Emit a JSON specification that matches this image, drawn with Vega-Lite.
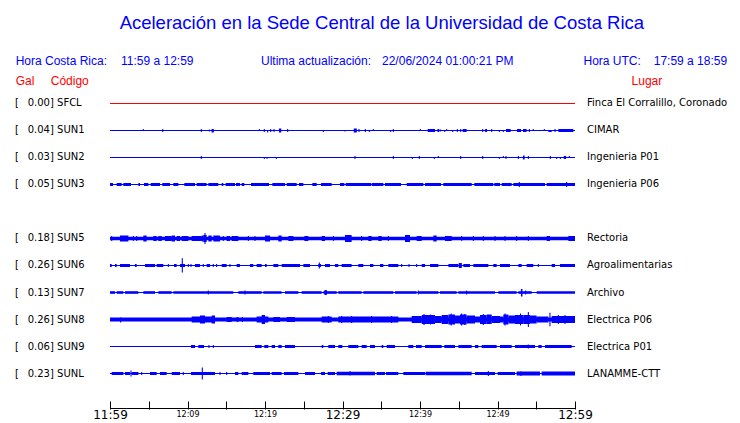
{
"$schema":"https://vega.github.io/schema/vega-lite/v6.json",
"width":465,"height":409,
"autosize":{"type":"none"},
"padding":{"left":110,"top":0,"right":165,"bottom":14},
"background":"white",
"config":{"view":{"stroke":null}},
"datasets":{
"w":[
{"s":"SFCL","t":0,"t2":60,"lo":-0.5,"hi":0.5},
{"s":"SUN1","t":0,"t2":60,"lo":-0.5,"hi":0.5},
{"s":"SUN1","t":4.23,"t2":4.37,"lo":-0.5,"hi":1.5},
{"s":"SUN1","t":6.73,"t2":6.87,"lo":-1.5,"hi":1.5},
{"s":"SUN1","t":11.71,"t2":11.85,"lo":-1.5,"hi":1.5},
{"s":"SUN1","t":12.75,"t2":12.89,"lo":-1,"hi":1},
{"s":"SUN1","t":13.1,"t2":13.4,"lo":-2,"hi":1.5},
{"s":"SUN1","t":19.2,"t2":19.34,"lo":-0.5,"hi":1.5},
{"s":"SUN1","t":19.84,"t2":19.98,"lo":-1.5,"hi":1.5},
{"s":"SUN1","t":20.27,"t2":20.41,"lo":-2,"hi":0.5},
{"s":"SUN1","t":20.66,"t2":20.8,"lo":-1.5,"hi":1.5},
{"s":"SUN1","t":21.09,"t2":21.23,"lo":-1.5,"hi":1.5},
{"s":"SUN1","t":21.8,"t2":22.1,"lo":-2,"hi":2},
{"s":"SUN1","t":22.85,"t2":22.99,"lo":-1.5,"hi":1.5},
{"s":"SUN1","t":27.46,"t2":27.6,"lo":-1.5,"hi":0.5},
{"s":"SUN1","t":30.25,"t2":30.39,"lo":-1,"hi":0.5},
{"s":"SUN1","t":31.45,"t2":31.85,"lo":-2,"hi":2},
{"s":"SUN1","t":32.06,"t2":32.2,"lo":-1.5,"hi":1.5},
{"s":"SUN1","t":32.88,"t2":33.02,"lo":-1.5,"hi":1.5},
{"s":"SUN1","t":33.39,"t2":33.53,"lo":-1.5,"hi":0.5},
{"s":"SUN1","t":33.91,"t2":34.05,"lo":-0.5,"hi":1.5},
{"s":"SUN1","t":36.15,"t2":36.29,"lo":-1.5,"hi":0.5},
{"s":"SUN1","t":36.49,"t2":36.63,"lo":-1.5,"hi":1.5},
{"s":"SUN1","t":39.97,"t2":40.11,"lo":-0.5,"hi":1.5},
{"s":"SUN1","t":40.99,"t2":41.94,"lo":-1.5,"hi":1.5},
{"s":"SUN1","t":42.25,"t2":42.49,"lo":-1.5,"hi":1.5},
{"s":"SUN1","t":42.59,"t2":42.73,"lo":-1,"hi":1},
{"s":"SUN1","t":43.11,"t2":43.25,"lo":-1.5,"hi":0.5},
{"s":"SUN1","t":43.37,"t2":43.51,"lo":-0.5,"hi":1.5},
{"s":"SUN1","t":44.15,"t2":44.29,"lo":-1.5,"hi":0.5},
{"s":"SUN1","t":44.75,"t2":44.89,"lo":-1.5,"hi":1.5},
{"s":"SUN1","t":45.18,"t2":45.32,"lo":-1.5,"hi":1.5},
{"s":"SUN1","t":45.51,"t2":46.02,"lo":-1.5,"hi":1.5},
{"s":"SUN1","t":48.02,"t2":48.16,"lo":-1.5,"hi":1.5},
{"s":"SUN1","t":48.4,"t2":48.65,"lo":-1.5,"hi":1.5},
{"s":"SUN1","t":49.18,"t2":49.32,"lo":-1.5,"hi":1.5},
{"s":"SUN1","t":50.17,"t2":50.31,"lo":-1.5,"hi":0.5},
{"s":"SUN1","t":50.68,"t2":50.82,"lo":-1.5,"hi":0.5},
{"s":"SUN1","t":51.1,"t2":51.7,"lo":-1.5,"hi":1.5},
{"s":"SUN1","t":52.52,"t2":53.03,"lo":-1.5,"hi":1.5},
{"s":"SUN1","t":53.29,"t2":53.76,"lo":-1.5,"hi":1.5},
{"s":"SUN1","t":54.04,"t2":54.18,"lo":-1.5,"hi":1.5},
{"s":"SUN1","t":54.55,"t2":54.69,"lo":-0.5,"hi":1.5},
{"s":"SUN1","t":55.97,"t2":56.11,"lo":-0.5,"hi":1.5},
{"s":"SUN1","t":56.56,"t2":56.99,"lo":-1.5,"hi":0.5},
{"s":"SUN1","t":57.35,"t2":57.49,"lo":-1.5,"hi":1.5},
{"s":"SUN1","t":57.85,"t2":59.78,"lo":-1.5,"hi":1.5},
{"s":"SUN2","t":0,"t2":60,"lo":-0.5,"hi":0.5},
{"s":"SUN2","t":11.71,"t2":11.85,"lo":-1.5,"hi":1.5},
{"s":"SUN2","t":19.84,"t2":19.98,"lo":-1.5,"hi":0.5},
{"s":"SUN2","t":20.19,"t2":20.33,"lo":-1.5,"hi":0.5},
{"s":"SUN2","t":21.39,"t2":21.53,"lo":-1.5,"hi":0.5},
{"s":"SUN2","t":31.54,"t2":31.68,"lo":-1.5,"hi":1.5},
{"s":"SUN2","t":36.49,"t2":36.63,"lo":-1.5,"hi":1.5},
{"s":"SUN2","t":38.94,"t2":39.08,"lo":-1.5,"hi":0.5},
{"s":"SUN2","t":39.84,"t2":39.98,"lo":-1.5,"hi":1.5},
{"s":"SUN2","t":41.78,"t2":41.92,"lo":-1.5,"hi":0.5},
{"s":"SUN2","t":42.3,"t2":42.44,"lo":-0.5,"hi":1.5},
{"s":"SUN2","t":45.18,"t2":45.32,"lo":-1.5,"hi":1.5},
{"s":"SUN2","t":48.02,"t2":48.16,"lo":-1.5,"hi":1.5},
{"s":"SUN2","t":50.17,"t2":50.31,"lo":-1.5,"hi":0.5},
{"s":"SUN2","t":50.68,"t2":50.82,"lo":-0.5,"hi":1.5},
{"s":"SUN2","t":51.03,"t2":51.17,"lo":-1.5,"hi":1.5},
{"s":"SUN2","t":52.62,"t2":52.76,"lo":-1.5,"hi":1.5},
{"s":"SUN2","t":53.28,"t2":53.5,"lo":-2,"hi":2},
{"s":"SUN2","t":53.91,"t2":54.05,"lo":-1.5,"hi":1.5},
{"s":"SUN2","t":56.75,"t2":56.89,"lo":-1.5,"hi":1.5},
{"s":"SUN2","t":57.56,"t2":57.7,"lo":-1.5,"hi":0.5},
{"s":"SUN2","t":58.04,"t2":58.18,"lo":-1.5,"hi":0.5},
{"s":"SUN2","t":58.55,"t2":58.85,"lo":-1.5,"hi":1.5},
{"s":"SUN2","t":59.2,"t2":59.34,"lo":-0.5,"hi":1.5},
{"s":"SUN3","t":0,"t2":60,"lo":-0.5,"hi":0.5},
{"s":"SUN3","t":0,"t2":0.39,"lo":-1.5,"hi":1.5},
{"s":"SUN3","t":0.86,"t2":1.51,"lo":-1.5,"hi":1.5},
{"s":"SUN3","t":1.72,"t2":2.71,"lo":-1.5,"hi":1.5},
{"s":"SUN3","t":3.66,"t2":3.87,"lo":-1.5,"hi":1.5},
{"s":"SUN3","t":4.39,"t2":4.95,"lo":-1.5,"hi":1.5},
{"s":"SUN3","t":5.25,"t2":6.45,"lo":-1.5,"hi":1.5},
{"s":"SUN3","t":6.75,"t2":7.74,"lo":-1.5,"hi":1.5},
{"s":"SUN3","t":8.17,"t2":8.82,"lo":-1.5,"hi":1.5},
{"s":"SUN3","t":9.59,"t2":10.97,"lo":-1.5,"hi":1.5},
{"s":"SUN3","t":11.18,"t2":12.47,"lo":-1.5,"hi":1.5},
{"s":"SUN3","t":12.69,"t2":13.98,"lo":-1.5,"hi":1.5},
{"s":"SUN3","t":14.41,"t2":14.62,"lo":-1.5,"hi":1.5},
{"s":"SUN3","t":14.92,"t2":16.13,"lo":-1.5,"hi":1.5},
{"s":"SUN3","t":16.26,"t2":16.77,"lo":-1.5,"hi":1.5},
{"s":"SUN3","t":16.99,"t2":17.33,"lo":-1.5,"hi":1.5},
{"s":"SUN3","t":18.19,"t2":20.52,"lo":-1.5,"hi":1.5},
{"s":"SUN3","t":20.95,"t2":22.58,"lo":-1.5,"hi":1.5},
{"s":"SUN3","t":22.8,"t2":24.09,"lo":-1.5,"hi":1.5},
{"s":"SUN3","t":24.39,"t2":24.95,"lo":-1.5,"hi":1.5},
{"s":"SUN3","t":26.11,"t2":26.67,"lo":-1.5,"hi":1.5},
{"s":"SUN3","t":27.23,"t2":28.6,"lo":-1.5,"hi":1.5},
{"s":"SUN3","t":29.68,"t2":30.24,"lo":-1.5,"hi":1.5},
{"s":"SUN3","t":30.41,"t2":33.68,"lo":-1.5,"hi":1.5},
{"s":"SUN3","t":33.76,"t2":35.27,"lo":-1.5,"hi":1.5},
{"s":"SUN3","t":35.48,"t2":37.55,"lo":-1.5,"hi":1.5},
{"s":"SUN3","t":38.28,"t2":40.43,"lo":-1.5,"hi":1.5},
{"s":"SUN3","t":40.65,"t2":42.71,"lo":-1.5,"hi":1.5},
{"s":"SUN3","t":43.01,"t2":46.67,"lo":-1.5,"hi":1.5},
{"s":"SUN3","t":47.01,"t2":49.46,"lo":-1.5,"hi":1.5},
{"s":"SUN3","t":49.59,"t2":50.32,"lo":-1.5,"hi":1.5},
{"s":"SUN3","t":50.54,"t2":51.83,"lo":-1.5,"hi":1.5},
{"s":"SUN3","t":52.04,"t2":56.13,"lo":-1.5,"hi":1.5},
{"s":"SUN3","t":56.34,"t2":60,"lo":-1.5,"hi":1.5},
{"s":"SUN3","t":52.75,"t2":52.89,"lo":-2.5,"hi":2.5},
{"s":"SUN3","t":58.85,"t2":58.99,"lo":-2.5,"hi":2.5},
{"s":"SUN5","t":0,"t2":60,"lo":-1.8,"hi":1.8},
{"s":"SUN5","t":0.15,"t2":0.29,"lo":-2.5,"hi":2.5},
{"s":"SUN5","t":1.29,"t2":2.37,"lo":-3,"hi":3},
{"s":"SUN5","t":2.94,"t2":3.08,"lo":-2.5,"hi":2.5},
{"s":"SUN5","t":3.37,"t2":3.51,"lo":-2.5,"hi":2.5},
{"s":"SUN5","t":4.3,"t2":4.73,"lo":-3,"hi":3},
{"s":"SUN5","t":5.59,"t2":6.02,"lo":-2.5,"hi":2.5},
{"s":"SUN5","t":6.24,"t2":6.67,"lo":-2.5,"hi":2.5},
{"s":"SUN5","t":7.1,"t2":7.96,"lo":-2.5,"hi":2.5},
{"s":"SUN5","t":7.96,"t2":8.39,"lo":-3,"hi":3},
{"s":"SUN5","t":8.6,"t2":9.03,"lo":-2.5,"hi":2.5},
{"s":"SUN5","t":9.25,"t2":10.11,"lo":-2.5,"hi":2.5},
{"s":"SUN5","t":10.54,"t2":11.83,"lo":-2.5,"hi":2.5},
{"s":"SUN5","t":11.83,"t2":12.04,"lo":-3,"hi":3},
{"s":"SUN5","t":12.04,"t2":12.47,"lo":-3.5,"hi":3.5},
{"s":"SUN5","t":12.19,"t2":12.33,"lo":-5.5,"hi":5.5},
{"s":"SUN5","t":12.69,"t2":13.12,"lo":-3,"hi":3},
{"s":"SUN5","t":13.33,"t2":14.19,"lo":-3,"hi":3},
{"s":"SUN5","t":14.55,"t2":14.69,"lo":-2.5,"hi":2.5},
{"s":"SUN5","t":15.05,"t2":15.48,"lo":-2.5,"hi":2.5},
{"s":"SUN5","t":15.7,"t2":16.56,"lo":-2.5,"hi":2.5},
{"s":"SUN5","t":17.78,"t2":17.92,"lo":-2.5,"hi":2.5},
{"s":"SUN5","t":18.64,"t2":18.78,"lo":-2.5,"hi":2.5},
{"s":"SUN5","t":20,"t2":20.65,"lo":-3,"hi":3},
{"s":"SUN5","t":21.72,"t2":22.15,"lo":-3,"hi":3},
{"s":"SUN5","t":23.01,"t2":23.66,"lo":-2.5,"hi":2.5},
{"s":"SUN5","t":25.08,"t2":25.59,"lo":-2.5,"hi":2.5},
{"s":"SUN5","t":27.31,"t2":27.74,"lo":-2.5,"hi":2.5},
{"s":"SUN5","t":28.75,"t2":28.89,"lo":-2.5,"hi":2.5},
{"s":"SUN5","t":30.32,"t2":31.18,"lo":-3.5,"hi":3.5},
{"s":"SUN5","t":32.4,"t2":32.54,"lo":-2.5,"hi":2.5},
{"s":"SUN5","t":33.33,"t2":33.76,"lo":-2.5,"hi":2.5},
{"s":"SUN5","t":34.62,"t2":35.05,"lo":-2.5,"hi":2.5},
{"s":"SUN5","t":35.84,"t2":35.98,"lo":-2.5,"hi":2.5},
{"s":"SUN5","t":38.06,"t2":38.71,"lo":-3.5,"hi":3.5},
{"s":"SUN5","t":39.57,"t2":40.22,"lo":-2.5,"hi":2.5},
{"s":"SUN5","t":41.72,"t2":42.15,"lo":-3,"hi":3},
{"s":"SUN5","t":43.23,"t2":44.09,"lo":-2.5,"hi":2.5},
{"s":"SUN5","t":45.31,"t2":45.45,"lo":-2.5,"hi":2.5},
{"s":"SUN5","t":46.81,"t2":46.95,"lo":-2.5,"hi":2.5},
{"s":"SUN5","t":48.1,"t2":48.24,"lo":-2.5,"hi":2.5},
{"s":"SUN5","t":49.61,"t2":49.75,"lo":-2.5,"hi":2.5},
{"s":"SUN5","t":50.9,"t2":51.04,"lo":-2.5,"hi":2.5},
{"s":"SUN5","t":52.4,"t2":52.54,"lo":-2.5,"hi":2.5},
{"s":"SUN5","t":53.91,"t2":54.05,"lo":-2.5,"hi":2.5},
{"s":"SUN5","t":56.34,"t2":56.77,"lo":-2.5,"hi":2.5},
{"s":"SUN5","t":59.14,"t2":60,"lo":-2.5,"hi":2.5},
{"s":"SUN6","t":0,"t2":60,"lo":-0.5,"hi":0.5},
{"s":"SUN6","t":0,"t2":0.22,"lo":-1.5,"hi":1.5},
{"s":"SUN6","t":0.65,"t2":0.86,"lo":-1.5,"hi":1.5},
{"s":"SUN6","t":1.29,"t2":2.58,"lo":-1.5,"hi":1.5},
{"s":"SUN6","t":3.23,"t2":3.44,"lo":-1.5,"hi":1.5},
{"s":"SUN6","t":4.52,"t2":5.81,"lo":-1.5,"hi":1.5},
{"s":"SUN6","t":6.02,"t2":6.88,"lo":-1.5,"hi":1.5},
{"s":"SUN6","t":7.46,"t2":7.6,"lo":-1.5,"hi":1.5},
{"s":"SUN6","t":8.26,"t2":8.6,"lo":-1.5,"hi":1.5},
{"s":"SUN6","t":9.03,"t2":9.68,"lo":-1.5,"hi":1.5},
{"s":"SUN6","t":9.26,"t2":9.4,"lo":-7,"hi":7.3},
{"s":"SUN6","t":10.04,"t2":10.18,"lo":-1.5,"hi":1.5},
{"s":"SUN6","t":10.38,"t2":10.52,"lo":-1.5,"hi":1.5},
{"s":"SUN6","t":10.97,"t2":11.61,"lo":-1.5,"hi":1.5},
{"s":"SUN6","t":11.97,"t2":12.11,"lo":-1.5,"hi":1.5},
{"s":"SUN6","t":12.47,"t2":12.9,"lo":-1.5,"hi":1.5},
{"s":"SUN6","t":13.26,"t2":13.4,"lo":-1.5,"hi":1.5},
{"s":"SUN6","t":13.69,"t2":13.83,"lo":-1.5,"hi":1.5},
{"s":"SUN6","t":14.41,"t2":15.05,"lo":-1.5,"hi":1.5},
{"s":"SUN6","t":15.41,"t2":15.55,"lo":-1.5,"hi":1.5},
{"s":"SUN6","t":16.34,"t2":16.77,"lo":-1.5,"hi":1.5},
{"s":"SUN6","t":18.06,"t2":18.49,"lo":-1.5,"hi":1.5},
{"s":"SUN6","t":18.92,"t2":19.57,"lo":-1.5,"hi":1.5},
{"s":"SUN6","t":20,"t2":20.22,"lo":-1.5,"hi":1.5},
{"s":"SUN6","t":21.08,"t2":21.72,"lo":-1.5,"hi":1.5},
{"s":"SUN6","t":22.15,"t2":24.52,"lo":-1.5,"hi":1.5},
{"s":"SUN6","t":24.95,"t2":25.81,"lo":-1.5,"hi":1.5},
{"s":"SUN6","t":26.88,"t2":27.23,"lo":-1.5,"hi":1.5},
{"s":"SUN6","t":26.94,"t2":27.08,"lo":-3,"hi":3},
{"s":"SUN6","t":27.74,"t2":28.39,"lo":-1.5,"hi":1.5},
{"s":"SUN6","t":29.03,"t2":29.46,"lo":-1.5,"hi":1.5},
{"s":"SUN6","t":29.89,"t2":31.18,"lo":-1.5,"hi":1.5},
{"s":"SUN6","t":32.04,"t2":32.69,"lo":-1.5,"hi":1.5},
{"s":"SUN6","t":33.55,"t2":33.98,"lo":-1.5,"hi":1.5},
{"s":"SUN6","t":34.84,"t2":35.27,"lo":-1.5,"hi":1.5},
{"s":"SUN6","t":35.91,"t2":37.2,"lo":-1.5,"hi":1.5},
{"s":"SUN6","t":37.56,"t2":37.7,"lo":-1.5,"hi":1.5},
{"s":"SUN6","t":38.51,"t2":38.65,"lo":-1.5,"hi":1.5},
{"s":"SUN6","t":39.5,"t2":39.64,"lo":-1.5,"hi":1.5},
{"s":"SUN6","t":40.22,"t2":40.65,"lo":-1.5,"hi":1.5},
{"s":"SUN6","t":41.29,"t2":42.37,"lo":-1.5,"hi":1.5},
{"s":"SUN6","t":43.66,"t2":44.95,"lo":-1.5,"hi":1.5},
{"s":"SUN6","t":45.0,"t2":45.4,"lo":-2.5,"hi":2.5},
{"s":"SUN6","t":45.59,"t2":46.45,"lo":-1.5,"hi":1.5},
{"s":"SUN6","t":46.88,"t2":48.82,"lo":-1.5,"hi":1.5},
{"s":"SUN6","t":49.46,"t2":49.89,"lo":-1.5,"hi":1.5},
{"s":"SUN6","t":50.32,"t2":51.61,"lo":-1.5,"hi":1.5},
{"s":"SUN6","t":52.69,"t2":53.12,"lo":-1.5,"hi":1.5},
{"s":"SUN6","t":53.76,"t2":54.62,"lo":-1.5,"hi":1.5},
{"s":"SUN6","t":55.2,"t2":55.34,"lo":-1.5,"hi":1.5},
{"s":"SUN6","t":56.99,"t2":57.42,"lo":-1.5,"hi":1.5},
{"s":"SUN6","t":58.06,"t2":60,"lo":-1.5,"hi":1.5},
{"s":"SUN7","t":0,"t2":60,"lo":-0.5,"hi":0.5},
{"s":"SUN7","t":0,"t2":0.65,"lo":-1.3,"hi":1.3},
{"s":"SUN7","t":0.86,"t2":1.72,"lo":-1.3,"hi":1.3},
{"s":"SUN7","t":1.94,"t2":3.66,"lo":-1.3,"hi":1.3},
{"s":"SUN7","t":4.3,"t2":5.81,"lo":-1.3,"hi":1.3},
{"s":"SUN7","t":6.24,"t2":7.96,"lo":-1.3,"hi":1.3},
{"s":"SUN7","t":8.17,"t2":15.91,"lo":-1.3,"hi":1.3},
{"s":"SUN7","t":16.56,"t2":19.57,"lo":-1.3,"hi":1.3},
{"s":"SUN7","t":19.78,"t2":22.15,"lo":-1.3,"hi":1.3},
{"s":"SUN7","t":22.58,"t2":24.3,"lo":-1.3,"hi":1.3},
{"s":"SUN7","t":24.73,"t2":27.31,"lo":-1.3,"hi":1.3},
{"s":"SUN7","t":27.53,"t2":29.25,"lo":-1.3,"hi":1.3},
{"s":"SUN7","t":29.46,"t2":32.47,"lo":-1.3,"hi":1.3},
{"s":"SUN7","t":32.69,"t2":36.56,"lo":-1.3,"hi":1.3},
{"s":"SUN7","t":36.77,"t2":39.57,"lo":-1.3,"hi":1.3},
{"s":"SUN7","t":39.78,"t2":42.37,"lo":-1.3,"hi":1.3},
{"s":"SUN7","t":42.58,"t2":44.73,"lo":-1.3,"hi":1.3},
{"s":"SUN7","t":44.95,"t2":49.68,"lo":-1.3,"hi":1.3},
{"s":"SUN7","t":50.11,"t2":52.47,"lo":-1.3,"hi":1.3},
{"s":"SUN7","t":52.69,"t2":54.41,"lo":-1.3,"hi":1.3},
{"s":"SUN7","t":55.05,"t2":60,"lo":-1.3,"hi":1.3},
{"s":"SUN7","t":12.62,"t2":12.76,"lo":-2,"hi":2},
{"s":"SUN7","t":17.35,"t2":17.49,"lo":-2,"hi":2},
{"s":"SUN7","t":27.68,"t2":27.98,"lo":-2.5,"hi":2.5},
{"s":"SUN7","t":39.71,"t2":39.85,"lo":-2,"hi":2},
{"s":"SUN7","t":45.95,"t2":46.09,"lo":-2,"hi":2},
{"s":"SUN7","t":53.02,"t2":53.22,"lo":-4,"hi":3.5},
{"s":"SUN7","t":53.56,"t2":53.7,"lo":-2,"hi":2},
{"s":"SUN8","t":0,"t2":60,"lo":-2,"hi":2},
{"s":"SUN8","t":1.31,"t2":1.45,"lo":-3,"hi":2},
{"s":"SUN8","t":10.54,"t2":13.55,"lo":-3,"hi":3},
{"s":"SUN8","t":11.61,"t2":12.26,"lo":-4,"hi":4},
{"s":"SUN8","t":13.12,"t2":13.55,"lo":-4,"hi":4},
{"s":"SUN8","t":15.05,"t2":15.7,"lo":-2.5,"hi":2.5},
{"s":"SUN8","t":16.34,"t2":16.56,"lo":-2.5,"hi":2.5},
{"s":"SUN8","t":17.01,"t2":17.15,"lo":-2.5,"hi":2.5},
{"s":"SUN8","t":18.92,"t2":20.43,"lo":-3,"hi":3},
{"s":"SUN8","t":19.57,"t2":20,"lo":-4.5,"hi":4.5},
{"s":"SUN8","t":21.08,"t2":21.94,"lo":-2.5,"hi":2.5},
{"s":"SUN8","t":22.8,"t2":23.87,"lo":-2.5,"hi":2.5},
{"s":"SUN8","t":27.31,"t2":28.6,"lo":-3,"hi":3},
{"s":"SUN8","t":28.1,"t2":28.24,"lo":-3.5,"hi":3.5},
{"s":"SUN8","t":29.46,"t2":37.2,"lo":-3,"hi":3},
{"s":"SUN8","t":29.82,"t2":29.96,"lo":-3.5,"hi":3.5},
{"s":"SUN8","t":31.11,"t2":31.25,"lo":-3.5,"hi":3.5},
{"s":"SUN8","t":33.69,"t2":33.83,"lo":-3.5,"hi":3.5},
{"s":"SUN8","t":36.27,"t2":36.41,"lo":-3.5,"hi":3.5},
{"s":"SUN8","t":38.92,"t2":40.22,"lo":-3.5,"hi":3.5},
{"s":"SUN8","t":40.22,"t2":41.94,"lo":-4.5,"hi":4.5},
{"s":"SUN8","t":40.45,"t2":40.59,"lo":-5.5,"hi":5.5},
{"s":"SUN8","t":41.3,"t2":41.44,"lo":-5,"hi":5},
{"s":"SUN8","t":41.94,"t2":42.8,"lo":-3.5,"hi":3.5},
{"s":"SUN8","t":42.8,"t2":43.66,"lo":-4.5,"hi":4.5},
{"s":"SUN8","t":43.66,"t2":44.52,"lo":-5,"hi":5},
{"s":"SUN8","t":43.95,"t2":44.09,"lo":-6,"hi":6},
{"s":"SUN8","t":44.52,"t2":45.16,"lo":-4,"hi":4},
{"s":"SUN8","t":45.16,"t2":46.02,"lo":-5,"hi":5},
{"s":"SUN8","t":45.3,"t2":45.44,"lo":-6,"hi":6},
{"s":"SUN8","t":45.7,"t2":45.84,"lo":-5.5,"hi":5.5},
{"s":"SUN8","t":46.02,"t2":47.1,"lo":-4,"hi":4},
{"s":"SUN8","t":47.1,"t2":47.74,"lo":-3,"hi":3},
{"s":"SUN8","t":47.74,"t2":48.6,"lo":-4.5,"hi":4.5},
{"s":"SUN8","t":48.1,"t2":48.24,"lo":-5.5,"hi":5.5},
{"s":"SUN8","t":48.6,"t2":49.25,"lo":-4.5,"hi":5},
{"s":"SUN8","t":49.25,"t2":50.32,"lo":-3.5,"hi":3.5},
{"s":"SUN8","t":50.32,"t2":50.75,"lo":-3,"hi":3},
{"s":"SUN8","t":50.75,"t2":51.4,"lo":-5,"hi":5},
{"s":"SUN8","t":50.9,"t2":51.04,"lo":-6,"hi":6},
{"s":"SUN8","t":51.4,"t2":52.26,"lo":-4,"hi":4},
{"s":"SUN8","t":52.26,"t2":53.33,"lo":-4.5,"hi":4.5},
{"s":"SUN8","t":52.9,"t2":53.04,"lo":-6,"hi":6},
{"s":"SUN8","t":53.33,"t2":54.19,"lo":-4.5,"hi":4.5},
{"s":"SUN8","t":53.91,"t2":54.05,"lo":-7.5,"hi":7.5},
{"s":"SUN8","t":54.19,"t2":55.05,"lo":-4,"hi":4},
{"s":"SUN8","t":55.05,"t2":56.56,"lo":-3,"hi":3},
{"s":"SUN8","t":56.7,"t2":56.84,"lo":-6.7,"hi":6.7},
{"s":"SUN8","t":56.99,"t2":60,"lo":-3.5,"hi":3.5},
{"s":"SUN8","t":57.78,"t2":57.92,"lo":-4.5,"hi":4.5},
{"s":"SUN8","t":58.64,"t2":58.78,"lo":-4.5,"hi":4.5},
{"s":"SUN9","t":0,"t2":60,"lo":-0.5,"hi":0.5},
{"s":"SUN9","t":10.45,"t2":10.97,"lo":-1.5,"hi":1.5},
{"s":"SUN9","t":11.4,"t2":12.13,"lo":-1.5,"hi":1.5},
{"s":"SUN9","t":12.7,"t2":12.84,"lo":-1.5,"hi":1.5},
{"s":"SUN9","t":13.26,"t2":13.4,"lo":-1.5,"hi":1.5},
{"s":"SUN9","t":18.71,"t2":19.57,"lo":-1.5,"hi":1.5},
{"s":"SUN9","t":19.91,"t2":20.43,"lo":-1.5,"hi":1.5},
{"s":"SUN9","t":20.86,"t2":21.29,"lo":-1.5,"hi":1.5},
{"s":"SUN9","t":21.72,"t2":22.15,"lo":-1.5,"hi":1.5},
{"s":"SUN9","t":22.58,"t2":23.87,"lo":-1.5,"hi":1.5},
{"s":"SUN9","t":27.31,"t2":27.53,"lo":-1.5,"hi":1.5},
{"s":"SUN9","t":28.17,"t2":29.03,"lo":-1.5,"hi":1.5},
{"s":"SUN9","t":29.46,"t2":29.98,"lo":-1.5,"hi":1.5},
{"s":"SUN9","t":30.75,"t2":32.04,"lo":-1.5,"hi":1.5},
{"s":"SUN9","t":32.47,"t2":33.12,"lo":-1.5,"hi":1.5},
{"s":"SUN9","t":33.55,"t2":34.19,"lo":-1.5,"hi":1.5},
{"s":"SUN9","t":35.05,"t2":35.27,"lo":-1.5,"hi":1.5},
{"s":"SUN9","t":35.7,"t2":36.77,"lo":-1.5,"hi":1.5},
{"s":"SUN9","t":38.49,"t2":39.14,"lo":-1.5,"hi":1.5},
{"s":"SUN9","t":39.48,"t2":40.22,"lo":-1.5,"hi":1.5},
{"s":"SUN9","t":40.65,"t2":42.8,"lo":-1.5,"hi":1.5},
{"s":"SUN9","t":43.14,"t2":44.52,"lo":-1.5,"hi":1.5},
{"s":"SUN9","t":44.95,"t2":46.67,"lo":-1.5,"hi":1.5},
{"s":"SUN9","t":47.1,"t2":47.53,"lo":-1.5,"hi":1.5},
{"s":"SUN9","t":47.96,"t2":49.89,"lo":-1.5,"hi":1.5},
{"s":"SUN9","t":50.32,"t2":51.83,"lo":-1.5,"hi":1.5},
{"s":"SUN9","t":52.26,"t2":54.84,"lo":-1.5,"hi":1.5},
{"s":"SUN9","t":53.91,"t2":54.05,"lo":-2,"hi":2},
{"s":"SUN9","t":55.27,"t2":55.7,"lo":-1.5,"hi":1.5},
{"s":"SUN9","t":56.13,"t2":59.57,"lo":-1.5,"hi":1.5},
{"s":"SUNL","t":0,"t2":60,"lo":-0.5,"hi":0.5},
{"s":"SUNL","t":0.22,"t2":1.72,"lo":-1.5,"hi":1.5},
{"s":"SUNL","t":1.94,"t2":2.58,"lo":-1.5,"hi":1.5},
{"s":"SUNL","t":2.64,"t2":2.78,"lo":-3,"hi":3},
{"s":"SUNL","t":2.8,"t2":3.66,"lo":-1.5,"hi":1.5},
{"s":"SUNL","t":4.02,"t2":4.16,"lo":-1.5,"hi":1.5},
{"s":"SUNL","t":5.16,"t2":6.02,"lo":-1.5,"hi":1.5},
{"s":"SUNL","t":6.45,"t2":7.31,"lo":-1.5,"hi":1.5},
{"s":"SUNL","t":7.96,"t2":9.03,"lo":-1.5,"hi":1.5},
{"s":"SUNL","t":9.39,"t2":9.53,"lo":-1.5,"hi":1.5},
{"s":"SUNL","t":10.45,"t2":13.55,"lo":-1.5,"hi":1.5},
{"s":"SUNL","t":11.84,"t2":11.98,"lo":-6,"hi":6},
{"s":"SUNL","t":14.12,"t2":14.26,"lo":-1.5,"hi":1.5},
{"s":"SUNL","t":14.98,"t2":15.12,"lo":-1.5,"hi":1.5},
{"s":"SUNL","t":16.13,"t2":16.56,"lo":-1.5,"hi":1.5},
{"s":"SUNL","t":16.99,"t2":17.85,"lo":-1.5,"hi":1.5},
{"s":"SUNL","t":18.49,"t2":20.65,"lo":-1.5,"hi":1.5},
{"s":"SUNL","t":20.86,"t2":22.15,"lo":-1.5,"hi":1.5},
{"s":"SUNL","t":22.45,"t2":24.3,"lo":-1.5,"hi":1.5},
{"s":"SUNL","t":25.16,"t2":26.45,"lo":-1.5,"hi":1.5},
{"s":"SUNL","t":27.23,"t2":27.74,"lo":-1.5,"hi":1.5},
{"s":"SUNL","t":28.09,"t2":29.03,"lo":-1.5,"hi":1.5},
{"s":"SUNL","t":29.25,"t2":34.19,"lo":-1.7,"hi":1.7},
{"s":"SUNL","t":30.9,"t2":31.04,"lo":-2,"hi":2.5},
{"s":"SUNL","t":34.41,"t2":35.48,"lo":-1.5,"hi":1.5},
{"s":"SUNL","t":35.61,"t2":37.2,"lo":-1.5,"hi":1.5},
{"s":"SUNL","t":37.85,"t2":40.65,"lo":-1.5,"hi":1.5},
{"s":"SUNL","t":40.73,"t2":46.67,"lo":-1.7,"hi":1.7},
{"s":"SUNL","t":47.1,"t2":49.68,"lo":-1.5,"hi":1.5},
{"s":"SUNL","t":48.75,"t2":48.89,"lo":-2.5,"hi":2.5},
{"s":"SUNL","t":50.02,"t2":52.26,"lo":-1.5,"hi":1.5},
{"s":"SUNL","t":52.47,"t2":55.48,"lo":-2,"hi":2},
{"s":"SUNL","t":52.95,"t2":53.09,"lo":-2.5,"hi":2},
{"s":"SUNL","t":55.7,"t2":60,"lo":-2,"hi":2}
],
"lbl":[
{"g":"title","txt":"Aceleración en la Sede Central de la Universidad de Costa Rica","t":35.08,"r":-2.748},
{"g":"hdr","txt":"Hora Costa Rica:","t":-12.17,"r":-1.426},
{"g":"hdr","txt":"11:59 a 12:59","t":1.42,"r":-1.426},
{"g":"hdr","txt":"Ultima actualización:","t":19.48,"r":-1.426},
{"g":"hdr","txt":"22/06/2024 01:00:21 PM","t":35.1,"r":-1.426},
{"g":"hdr","txt":"Hora UTC:","t":61.1,"r":-1.426},
{"g":"hdr","txt":"17:59 a 18:59","t":70.16,"r":-1.426},
{"g":"red","txt":"Gal","t":-12.17,"r":-0.685},
{"g":"red","txt":"Código","t":-7.65,"r":-0.685},
{"g":"red","txt":"Lugar","t":67.3,"r":-0.685},
{"g":"code","txt":"[","t":-12.26,"r":0},
{"g":"code","txt":"[","t":-12.26,"r":1},
{"g":"code","txt":"[","t":-12.26,"r":2},
{"g":"code","txt":"[","t":-12.26,"r":3},
{"g":"code","txt":"[","t":-12.26,"r":5},
{"g":"code","txt":"[","t":-12.26,"r":6},
{"g":"code","txt":"[","t":-12.26,"r":7},
{"g":"code","txt":"[","t":-12.26,"r":8},
{"g":"code","txt":"[","t":-12.26,"r":9},
{"g":"code","txt":"[","t":-12.26,"r":10},
{"g":"code","txt":"0.00] SFCL","t":-10.62,"r":0},
{"g":"code","txt":"0.04] SUN1","t":-10.62,"r":1},
{"g":"code","txt":"0.03] SUN2","t":-10.62,"r":2},
{"g":"code","txt":"0.05] SUN3","t":-10.62,"r":3},
{"g":"code","txt":"0.18] SUN5","t":-10.62,"r":5},
{"g":"code","txt":"0.26] SUN6","t":-10.62,"r":6},
{"g":"code","txt":"0.13] SUN7","t":-10.62,"r":7},
{"g":"code","txt":"0.26] SUN8","t":-10.62,"r":8},
{"g":"code","txt":"0.06] SUN9","t":-10.62,"r":9},
{"g":"code","txt":"0.23] SUNL","t":-10.62,"r":10},
{"g":"code","txt":"Finca El Corralillo, Coronado","t":61.55,"r":0},
{"g":"code","txt":"CIMAR","t":61.55,"r":1},
{"g":"code","txt":"Ingenieria P01","t":61.55,"r":2},
{"g":"code","txt":"Ingenieria P06","t":61.55,"r":3},
{"g":"code","txt":"Rectoria","t":61.55,"r":5},
{"g":"code","txt":"Agroalimentarias","t":61.55,"r":6},
{"g":"code","txt":"Archivo","t":61.55,"r":7},
{"g":"code","txt":"Electrica P06","t":61.55,"r":8},
{"g":"code","txt":"Electrica P01","t":61.55,"r":9},
{"g":"code","txt":"LANAMME-CTT","t":61.55,"r":10}
],
"ax":[{"t":0,"t2":60,"r":11.2963}]
},
"encoding":{
"x":{"field":"t","type":"quantitative","scale":{"domain":[0,60],"nice":false,"zero":false},
"axis":{"values":[0,5,10,15,20,25,30,35,40,45,50,55,60],"title":null,"grid":false,"domain":false,"ticks":true,"tickColor":"#000000","tickWidth":1,"tickSize":-8,
"labelExpr":"datum.value % 10 === 0 ? timeFormat(datetime(2024,5,22,11,59+datum.value),'%H:%M') : ''",
"labelFont":"DejaVu Sans","labelColor":"#000000","labelFontSize":{"condition":{"test":"datum.value % 30 === 0","value":12},"value":8},
"labelBaseline":"middle","labelPadding":13.5,"labelOverlap":false,"labelFlush":false,"labelBound":false}}
},
"layer":[
{"data":{"name":"ax"},"mark":{"type":"rule","color":"#000000","strokeWidth":1},
"encoding":{"x2":{"field":"t2"},"y":{"field":"r","type":"quantitative","scale":{"domain":[-3.8333,11.3148],"reverse":true,"nice":false,"zero":false},"axis":null}}},
{"data":{"name":"w"},"transform":[{"filter":"datum.s === 'SFCL'"}],"mark":{"type":"rect","color":"#ff0000"},
"encoding":{"x2":{"field":"t2"},"y":{"field":"lo","type":"quantitative","scale":{"domain":[-305.5,103.5],"nice":false,"zero":false},"axis":null},"y2":{"field":"hi"}}},
{"data":{"name":"w"},"transform":[{"filter":"datum.s === 'SUN1'"}],"mark":{"type":"rect","color":"#0000ff"},
"encoding":{"x2":{"field":"t2"},"y":{"field":"lo","type":"quantitative","scale":{"domain":[-278.5,130.5],"nice":false,"zero":false},"axis":null},"y2":{"field":"hi"}}},
{"data":{"name":"w"},"transform":[{"filter":"datum.s === 'SUN2'"}],"mark":{"type":"rect","color":"#0000ff"},
"encoding":{"x2":{"field":"t2"},"y":{"field":"lo","type":"quantitative","scale":{"domain":[-251.5,157.5],"nice":false,"zero":false},"axis":null},"y2":{"field":"hi"}}},
{"data":{"name":"w"},"transform":[{"filter":"datum.s === 'SUN3'"}],"mark":{"type":"rect","color":"#0000ff"},
"encoding":{"x2":{"field":"t2"},"y":{"field":"lo","type":"quantitative","scale":{"domain":[-224.5,184.5],"nice":false,"zero":false},"axis":null},"y2":{"field":"hi"}}},
{"data":{"name":"w"},"transform":[{"filter":"datum.s === 'SUN5'"}],"mark":{"type":"rect","color":"#0000ff"},
"encoding":{"x2":{"field":"t2"},"y":{"field":"lo","type":"quantitative","scale":{"domain":[-170.5,238.5],"nice":false,"zero":false},"axis":null},"y2":{"field":"hi"}}},
{"data":{"name":"w"},"transform":[{"filter":"datum.s === 'SUN6'"}],"mark":{"type":"rect","color":"#0000ff"},
"encoding":{"x2":{"field":"t2"},"y":{"field":"lo","type":"quantitative","scale":{"domain":[-143.5,265.5],"nice":false,"zero":false},"axis":null},"y2":{"field":"hi"}}},
{"data":{"name":"w"},"transform":[{"filter":"datum.s === 'SUN7'"}],"mark":{"type":"rect","color":"#0000ff"},
"encoding":{"x2":{"field":"t2"},"y":{"field":"lo","type":"quantitative","scale":{"domain":[-116.5,292.5],"nice":false,"zero":false},"axis":null},"y2":{"field":"hi"}}},
{"data":{"name":"w"},"transform":[{"filter":"datum.s === 'SUN8'"}],"mark":{"type":"rect","color":"#0000ff"},
"encoding":{"x2":{"field":"t2"},"y":{"field":"lo","type":"quantitative","scale":{"domain":[-89.5,319.5],"nice":false,"zero":false},"axis":null},"y2":{"field":"hi"}}},
{"data":{"name":"w"},"transform":[{"filter":"datum.s === 'SUN9'"}],"mark":{"type":"rect","color":"#0000ff"},
"encoding":{"x2":{"field":"t2"},"y":{"field":"lo","type":"quantitative","scale":{"domain":[-62.5,346.5],"nice":false,"zero":false},"axis":null},"y2":{"field":"hi"}}},
{"data":{"name":"w"},"transform":[{"filter":"datum.s === 'SUNL'"}],"mark":{"type":"rect","color":"#0000ff"},
"encoding":{"x2":{"field":"t2"},"y":{"field":"lo","type":"quantitative","scale":{"domain":[-35.5,373.5],"nice":false,"zero":false},"axis":null},"y2":{"field":"hi"}}},
{"data":{"name":"lbl"},"transform":[{"filter":"datum.g === 'title'"}],"mark":{"type":"text","font":"Liberation Sans","fontSize":18.5,"color":"#0000ff","align":"center","baseline":"alphabetic"},
"encoding":{"y":{"field":"r","type":"quantitative","scale":{"domain":[-3.8333,11.3148],"reverse":true,"nice":false,"zero":false},"axis":null},"text":{"field":"txt"}}},
{"data":{"name":"lbl"},"transform":[{"filter":"datum.g === 'hdr'"}],"mark":{"type":"text","font":"Liberation Sans","fontSize":12,"color":"#0000ff","align":"left","baseline":"alphabetic"},
"encoding":{"y":{"field":"r","type":"quantitative","scale":{"domain":[-3.8333,11.3148],"reverse":true,"nice":false,"zero":false},"axis":null},"text":{"field":"txt"}}},
{"data":{"name":"lbl"},"transform":[{"filter":"datum.g === 'red'"}],"mark":{"type":"text","font":"Liberation Sans","fontSize":12,"color":"#ff0000","align":"left","baseline":"alphabetic"},
"encoding":{"y":{"field":"r","type":"quantitative","scale":{"domain":[-3.8333,11.3148],"reverse":true,"nice":false,"zero":false},"axis":null},"text":{"field":"txt"}}},
{"data":{"name":"lbl"},"transform":[{"filter":"datum.g === 'code'"}],"mark":{"type":"text","font":"DejaVu Sans","fontSize":10,"color":"#000000","align":"left","baseline":"middle"},
"encoding":{"y":{"field":"r","type":"quantitative","scale":{"domain":[-3.8333,11.3148],"reverse":true,"nice":false,"zero":false},"axis":null},"text":{"field":"txt"}}}
],
"resolve":{"scale":{"y":"independent"}}
}
